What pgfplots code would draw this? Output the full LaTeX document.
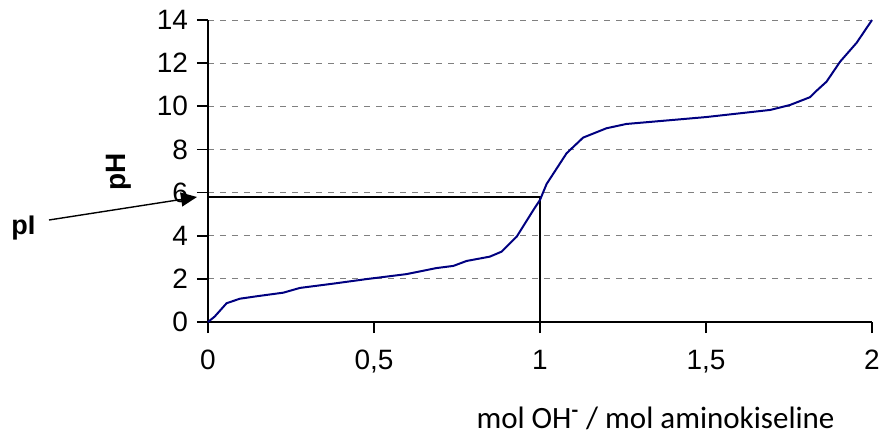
\documentclass[border=0pt]{standalone}
\usepackage{pgfplots}
\pgfplotsset{compat=1.18}
\usepackage{fontspec}
\setmainfont{Liberation Sans}
\newfontfamily\carlito{Carlito}
\usetikzlibrary{arrows.meta}

\begin{document}
\begin{tikzpicture}
\useasboundingbox (-104pt,-58.5pt) rectangle (337.5pt,161pt);
\begin{axis}[
  at={(0,0)}, anchor=origin,
  scale only axis, width=332pt, height=151pt,
  xmin=0, xmax=2, ymin=0, ymax=14,
  axis x line=bottom, axis y line=left,
  axis line style={-, line width=0.9pt},
  xtick={0,0.5,1,1.5,2}, ytick={0,2,...,14},
  tick align=outside, major tick length=5.5pt,
  tick style={black, line width=0.9pt},
  ymajorgrids, major grid style={gray, dashed, line width=0.4pt},
  /pgf/number format/assume math mode=true,
  /pgf/number format/use comma,
  tick label style={font=\fontsize{14}{16}\selectfont},
  xticklabel style={yshift=-5pt},
  yticklabel style={xshift=-1pt},
  clip=false,
]
\addplot[black, line width=0.9pt] coordinates {(0,5.81) (1,5.81) (1,0)};
\addplot[color={rgb,255:red,0;green,0;blue,128}, line width=1pt] coordinates {
(0,0) (0.02,0.25) (0.056,0.87) (0.096,1.08) (0.15,1.2) (0.227,1.36)
(0.277,1.58) (0.378,1.78) (0.478,1.99) (0.598,2.22) (0.688,2.5)
(0.739,2.6) (0.779,2.83) (0.849,3.03) (0.884,3.26) (0.93,3.96)
(0.98,5.19) (1.0,5.66) (1.02,6.4) (1.08,7.82) (1.13,8.55) (1.2,8.98)
(1.26,9.18) (1.5,9.5) (1.693,9.83) (1.753,10.06) (1.813,10.42)
(1.833,10.72) (1.863,11.14) (1.904,12.07) (1.954,12.95) (2.0,14)
};
\end{axis}
\node[rotate=90, font=\fontsize{14}{16}\selectfont\bfseries] at (-44.5pt,75pt) {pH};
\node[font=\fontsize{13.5}{15}\selectfont\bfseries] at (-92.25pt,47pt) {pI};
\draw[line width=0.7pt, -{Triangle[length=8pt,width=7pt]}] (-79.5pt,51pt) -- (-5.5pt,62.5pt);
\node[font=\fontsize{15.5}{18}\selectfont\carlito] at (223.75pt,-48pt) {mol OH\textsuperscript{\textbf{-}} / mol aminokiseline};
\end{tikzpicture}
\end{document}
